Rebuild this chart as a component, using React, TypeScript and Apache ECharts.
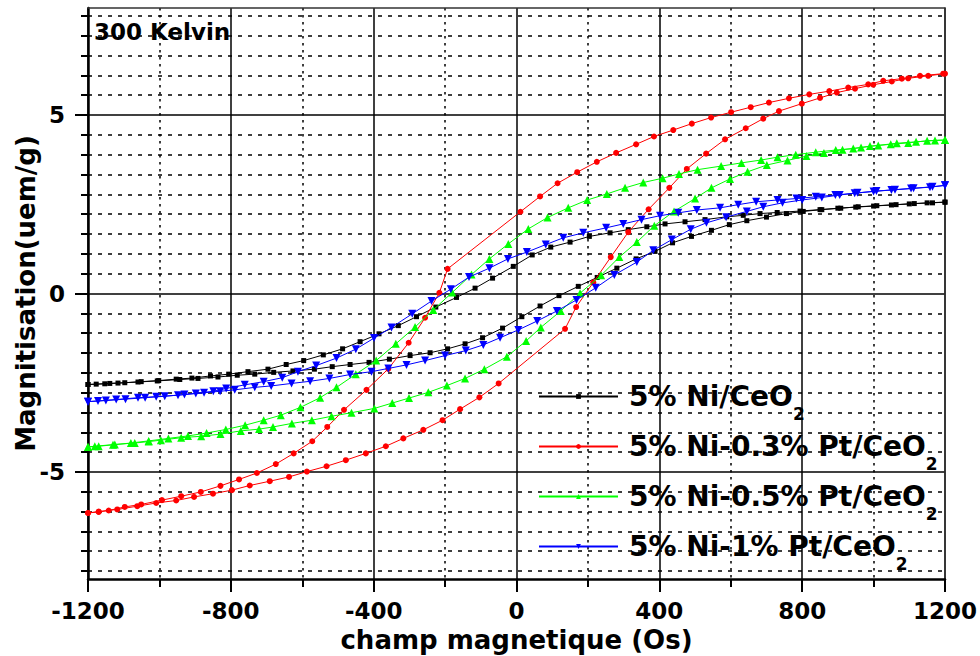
import React, { useEffect, useRef } from "react";
import * as echarts from "echarts";

const FONT = "'DejaVu Sans', sans-serif";

// 5% Ni/CeO2 — descending field branch, then ascending branch
const niDescH = [1200, 1150, 1100, 1050, 1000, 950, 900, 850, 794, 730, 682, 635, 589, 528, 472, 416, 365, 313, 262, 204, 150, 96, 44, -9, -67, -116, -168, -226, -280, -331, -385, -438, -487, -541, -596, -645, -696, -752, -806, -857, -909, -953, -1002, -1051, -1097, -1139, -1177, -1200];
const niDescM = [2.56, 2.54, 2.51, 2.48, 2.45, 2.42, 2.39, 2.35, 2.31, 2.27, 2.24, 2.19, 2.15, 2.07, 2.01, 1.95, 1.87, 1.79, 1.70, 1.60, 1.44, 1.30, 1.08, 0.76, 0.43, 0.15, -0.11, -0.38, -0.65, -0.90, -1.13, -1.35, -1.55, -1.72, -1.88, -1.99, -2.12, -2.19, -2.26, -2.31, -2.37, -2.40, -2.44, -2.47, -2.50, -2.52, -2.54, -2.55];
const niAscH = [-1200, -1153, -1116, -1060, -1006, -943, -892, -836, -782, -733, -680, -626, -566, -516, -466, -413, -356, -298, -242, -193, -144, -95, -39, 15, 66, 119, 173, 226, 281, 335, 388, 437, 490, 546, 596, 645, 700, 756, 803, 855, 908, 957, 1009, 1063, 1114, 1165, 1200];
const niAscM = [-2.55, -2.53, -2.51, -2.48, -2.45, -2.41, -2.38, -2.34, -2.29, -2.26, -2.21, -2.17, -2.12, -2.05, -1.99, -1.93, -1.84, -1.74, -1.66, -1.55, -1.41, -1.24, -0.97, -0.65, -0.35, -0.06, 0.20, 0.45, 0.71, 0.97, 1.18, 1.42, 1.60, 1.77, 1.93, 2.04, 2.14, 2.24, 2.30, 2.35, 2.39, 2.43, 2.46, 2.49, 2.52, 2.54, 2.56];

// 5% Ni-0.3% Pt/CeO2
const pt03DescH = [1195, 1130, 1079, 1027, 985, 929, 876, 820, 763, 707, 656, 601, 545, 491, 439, 385, 335, 279, 225, 170, 115, 66, 11, -193, -216, -256, -302, -359, -420, -483, -530, -572, -624, -674, -727, -777, -829, -884, -939, -993, -1051, -1097, -1142, -1170, -1200];
const pt03DescM = [6.16, 6.10, 6.02, 5.96, 5.86, 5.77, 5.67, 5.58, 5.47, 5.35, 5.22, 5.08, 4.93, 4.76, 4.58, 4.40, 4.18, 3.94, 3.69, 3.40, 3.09, 2.72, 2.29, 0.69, 0.02, -0.68, -1.38, -2.11, -2.70, -3.26, -3.74, -4.14, -4.48, -4.78, -5.03, -5.21, -5.39, -5.56, -5.68, -5.79, -5.91, -5.98, -6.08, -6.12, -6.15];
const pt03AscH = [-1200, -1170, -1118, -1062, -1009, -953, -903, -850, -797, -747, -691, -637, -587, -532, -478, -422, -366, -317, -261, -207, -158, -104, -50, 136, 167, 215, 264, 313, 370, 428, 477, 531, 584, 642, 691, 735, 799, 850, 897, 948, 999, 1051, 1097, 1153, 1200];
const pt03AscM = [-6.15, -6.11, -6.05, -5.96, -5.87, -5.80, -5.70, -5.61, -5.51, -5.38, -5.26, -5.14, -4.99, -4.84, -4.67, -4.48, -4.28, -4.06, -3.82, -3.55, -3.24, -2.91, -2.52, -0.99, -0.38, 0.31, 1.02, 1.72, 2.36, 2.96, 3.49, 3.92, 4.32, 4.63, 4.90, 5.11, 5.32, 5.48, 5.63, 5.74, 5.85, 5.94, 6.03, 6.10, 6.16];

// 5% Ni-0.5% Pt/CeO2
const pt05DescH = [1200, 1150, 1097, 1048, 990, 943, 894, 838, 782, 731, 685, 630, 573, 507, 455, 409, 355, 304, 253, 198, 145, 87, 33, -23, -76, -126, -180, -233, -284, -338, -393, -450, -504, -550, -605, -660, -708, -760, -814, -868, -920, -975, -1030, -1080, -1130, -1170, -1200];
const pt05DescM = [4.30, 4.28, 4.22, 4.18, 4.13, 4.06, 4.02, 3.96, 3.89, 3.82, 3.74, 3.66, 3.57, 3.47, 3.35, 3.23, 3.11, 2.96, 2.79, 2.62, 2.40, 2.13, 1.81, 1.39, 0.97, 0.53, 0.03, -0.46, -0.94, -1.41, -1.88, -2.26, -2.63, -2.92, -3.19, -3.41, -3.55, -3.69, -3.81, -3.91, -3.99, -4.06, -4.13, -4.19, -4.24, -4.28, -4.30];
const pt05AscH = [-1200, -1181, -1125, -1069, -1030, -996, -939, -883, -829, -772, -721, -682, -629, -573, -518, -462, -398, -348, -301, -247, -195, -144, -90, -27, 27, 68, 124, 178, 237, 288, 337, 386, 441, 500, 546, 598, 647, 701, 759, 812, 861, 913, 965, 1013, 1065, 1119, 1172, 1200];
const pt05AscM = [-4.30, -4.28, -4.23, -4.19, -4.15, -4.11, -4.04, -4.00, -3.94, -3.85, -3.80, -3.74, -3.64, -3.55, -3.44, -3.34, -3.22, -3.07, -2.93, -2.77, -2.58, -2.38, -2.12, -1.77, -1.33, -0.95, -0.49, 0.01, 0.51, 1.02, 1.44, 1.90, 2.30, 2.66, 2.96, 3.21, 3.41, 3.60, 3.73, 3.85, 3.94, 4.03, 4.09, 4.15, 4.21, 4.25, 4.29, 4.30];

// 5% Ni-1% Pt/CeO2
const pt1DescH = [1200, 1158, 1105, 1050, 1000, 947, 893, 838, 784, 731, 671, 621, 570, 505, 453, 402, 350, 299, 251, 187, 131, 82, 29, -24, -76, -133, -184, -238, -292, -350, -399, -450, -504, -561, -612, -656, -708, -761, -813, -849, -898, -948, -1009, -1060, -1121, -1172, -1200];
const pt1DescM = [3.03, 2.98, 2.94, 2.90, 2.86, 2.81, 2.76, 2.71, 2.66, 2.62, 2.57, 2.49, 2.40, 2.34, 2.26, 2.18, 2.07, 1.95, 1.84, 1.70, 1.56, 1.37, 1.16, 0.97, 0.71, 0.46, 0.12, -0.21, -0.57, -0.95, -1.25, -1.56, -1.81, -2.02, -2.19, -2.36, -2.47, -2.56, -2.66, -2.74, -2.80, -2.85, -2.89, -2.92, -2.97, -3.01, -3.03];
const pt1AscH = [-1200, -1150, -1095, -1040, -985, -930, -875, -830, -789, -733, -687, -630, -578, -524, -466, -406, -359, -308, -256, -200, -142, -93, -46, 5, 58, 113, 168, 222, 274, 337, 383, 435, 488, 532, 587, 645, 691, 745, 800, 855, 905, 955, 1008, 1060, 1112, 1165, 1200];
const pt1AscM = [-3.03, -3.00, -2.96, -2.92, -2.88, -2.83, -2.78, -2.74, -2.70, -2.63, -2.59, -2.52, -2.46, -2.38, -2.27, -2.19, -2.10, -2.00, -1.88, -1.74, -1.60, -1.44, -1.24, -1.02, -0.77, -0.49, -0.18, 0.16, 0.52, 0.88, 1.21, 1.51, 1.80, 1.98, 2.14, 2.30, 2.43, 2.54, 2.62, 2.69, 2.76, 2.82, 2.87, 2.91, 2.95, 2.99, 3.03];

const seriesNames = ["5% Ni/CeO2", "5% Ni-0.3% Pt/CeO2", "5% Ni-0.5% Pt/CeO2", "5% Ni-1% Pt/CeO2"];
const legendMain = ["5% Ni/CeO", "5% Ni-0.3% Pt/CeO", "5% Ni-0.5% Pt/CeO", "5% Ni-1% Pt/CeO"];
const yTickValues = [-5, 0, 5];
const xTitle = "champ magnetique (Os)";
const yTitle = "Magnitisation(uem/g)";
const tempLabel = "300 Kelvin";

const colors = ["#000000", "#ff0000", "#00ff00", "#0000ff"];
const symbols = ["rect", "circle", "triangle", "triangle"];
const symbolSizes = [5, 6, 8, 8];
const symbolRotates = [0, 0, 0, 180];

function loop(dH: number[], dM: number[], aH: number[], aM: number[]) {
  return [
    ...dH.map((h, i) => [h, dM[i]]),
    ...aH.map((h, i) => [h, aM[i]]),
  ];
}

const loops = [
  loop(niDescH, niDescM, niAscH, niAscM),
  loop(pt03DescH, pt03DescM, pt03AscH, pt03AscM),
  loop(pt05DescH, pt05DescM, pt05AscH, pt05AscM),
  loop(pt1DescH, pt1DescM, pt1AscH, pt1AscM),
];

const boldText = { color: "#000", fontFamily: FONT, fontWeight: "bold" as const };

export default function App() {
  const ref = useRef<HTMLDivElement>(null);
  useEffect(() => {
    const chart = echarts.init(ref.current!, null, { renderer: "svg" });
    const option: any = {
      animation: false,
      backgroundColor: "#ffffff",
      grid: { left: 88, right: 35, top: 8, bottom: 77, containLabel: false, outerBoundsMode: "none" },
      xAxis: [
        {
          type: "value",
          min: -1200,
          max: 1200,
          interval: 400,
          position: "bottom",
          name: xTitle,
          nameLocation: "middle",
          nameGap: 48,
          nameMoveOverlap: false,
          nameTextStyle: { ...boldText, fontSize: 26 },
          axisLine: { show: true, onZero: false, lineStyle: { color: "#000", width: 2.5 } },
          axisTick: { show: true, inside: false, length: 13, lineStyle: { color: "#000", width: 2 } },
          minorTick: { show: true, splitNumber: 2, length: 8, lineStyle: { color: "#000", width: 2 } },
          axisLabel: { ...boldText, fontSize: 23, margin: 20, formatter: (v: number) => String(v) },
          splitLine: { show: true, lineStyle: { color: "#000", width: 1.5 } },
          minorSplitLine: { show: true, lineStyle: { color: "#000", width: 1.5, type: [2.5, 4.5] } },
        },
        {
          type: "value",
          min: -1200,
          max: 1200,
          interval: 400,
          position: "top",
          axisLine: { show: true, onZero: false, lineStyle: { color: "#333", width: 1.5 } },
          axisTick: { show: false },
          axisLabel: { show: false },
          splitLine: { show: false },
        },
      ],
      yAxis: [
        {
          type: "value",
          min: -8,
          max: 8,
          splitNumber: 3,
          position: "left",
          name: yTitle,
          nameLocation: "middle",
          nameGap: 49,
          nameMoveOverlap: false,
          nameTextStyle: { ...boldText, fontSize: 26 },
          axisLine: { show: true, onZero: false, lineStyle: { color: "#000", width: 2.5 } },
          axisTick: { show: true, inside: false, length: 13, customValues: yTickValues, lineStyle: { color: "#000", width: 2 } },
          minorTick: { show: true, splitNumber: 9, length: 7, lineStyle: { color: "#000", width: 2 } },
          axisLabel: { ...boldText, fontSize: 23, margin: 23, customValues: yTickValues, formatter: (v: number) => String(v) },
          splitLine: { show: true, lineStyle: { color: "#000", width: 1.5 } },
          minorSplitLine: { show: true, lineStyle: { color: "#000", width: 1.5, type: [4, 6] } },
        },
        {
          type: "value",
          min: -8,
          max: 8,
          splitNumber: 3,
          position: "right",
          axisLine: { show: true, onZero: false, lineStyle: { color: "#333", width: 1.5 } },
          axisTick: { show: false },
          axisLabel: { show: false },
          splitLine: { show: false },
        },
      ],
      legend: {
        orient: "vertical",
        left: 533,
        top: 366,
        padding: 5,
        itemWidth: 79,
        itemHeight: 6,
        itemGap: -1,
        selectedMode: false,
        data: seriesNames,
        formatter: (name: string) => {
          const i = seriesNames.indexOf(name);
          return `{m|${legendMain[i]}}{s|2}`;
        },
        textStyle: {
          ...boldText,
          fontSize: 28,
          rich: {
            m: { ...boldText, fontSize: 28, lineHeight: 30, padding: [0, 0, 0, 6] },
            s: { ...boldText, fontSize: 17, lineHeight: 20, padding: [34, 0, 0, 0] },
          },
        },
      },
      graphic: [
        {
          type: "text",
          left: 94,
          top: 20,
          style: { text: tempLabel, fill: "#000", font: `bold 23px ${FONT}` },
        },
      ],
      series: loops.map((data, i) => ({
        type: "line",
        name: seriesNames[i],
        data,
        xAxisIndex: 0,
        yAxisIndex: 0,
        symbol: symbols[i],
        symbolSize: symbolSizes[i],
        symbolRotate: symbolRotates[i],
        showAllSymbol: true,
        lineStyle: { color: colors[i], width: 1 },
        itemStyle: { color: colors[i] },
        emphasis: { disabled: true },
        z: 3 + i,
      })),
    };
    chart.setOption(option);
    return () => chart.dispose();
  }, []);
  return (
    <div
      ref={ref}
      style={{ position: "fixed", left: 0, top: 0, width: 980, height: 656 }}
    />
  );
}
